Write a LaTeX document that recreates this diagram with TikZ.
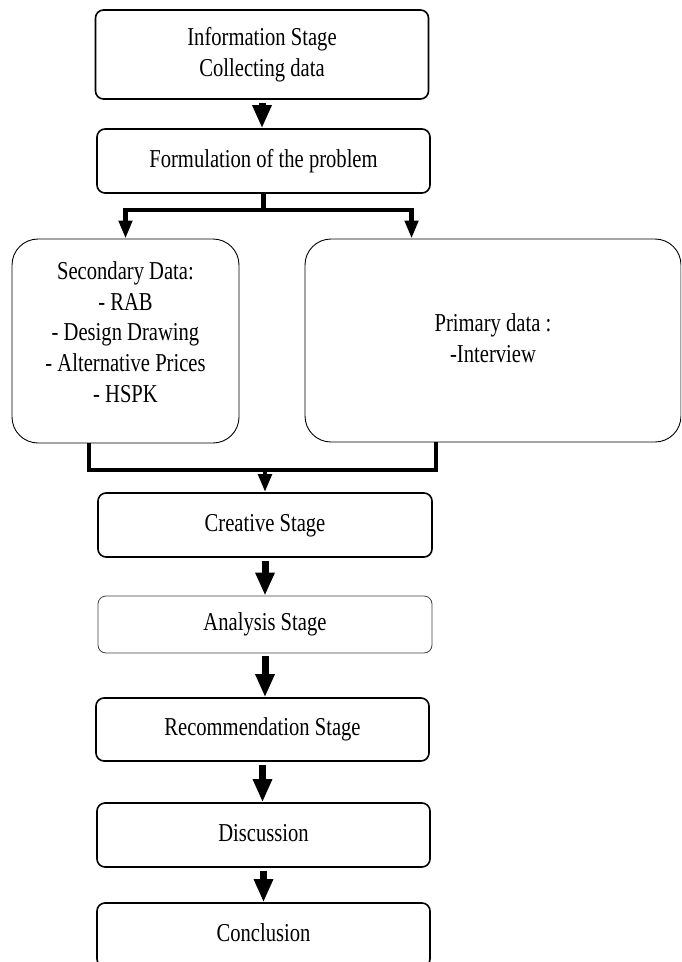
\documentclass[tikz,border=0pt]{standalone}
\usepackage{fontspec}
\usepackage{graphicx}
\setmainfont{Liberation Serif}
\usetikzlibrary{arrows.meta}

% text of the scanned chart is a bit taller than wide
\newcommand{\tall}[1]{\scalebox{1}[1.25]{\begin{tabular}{@{}c@{}}#1\end{tabular}}}

\begin{document}
\begin{tikzpicture}[x=1pt,y=-1pt,
    stage/.style={draw, line width=1.6pt, rounded corners=8pt, minimum width=333pt,
        minimum height=64pt, inner sep=0pt, align=center, font=\fontsize{20.6}{24.6}\selectfont},
    databox/.style={draw, line width=0.9pt, rounded corners=26pt, minimum height=204pt,
        inner sep=0pt, align=center, font=\fontsize{20.6}{24.6}\selectfont},
    bigarrow/.style={line width=7pt, shorten <=3pt, -{Triangle[width=18pt,length=23pt]}},
    link/.style={line width=4.5pt},
    linkarrow/.style={link, -{Triangle[width=13pt,length=18pt]}}]

    % --- Frame ---
    \useasboundingbox (0,0) rectangle (681,962);
    \clip (0,0) rectangle (681,962);

    % --- Stages ---
    \node[stage, minimum height=89pt] (info) at (262,54.5) {\tall{Information Stage\\Collecting data}};
    \node[stage] (form) at (263.5,161) {\tall{Formulation of the problem}};

    % Data boxes (the right one runs off the page edge)
    \node[databox, minimum width=227pt] (sec) at (125.5,341)
        {\tall{Secondary Data:\\- RAB\\- Design Drawing\\- Alternative Prices\\- HSPK\\[10pt]}};
    \node[databox, minimum width=376pt, minimum height=203pt] (prim) at (493,340.5)
        {\tall{Primary data :\\-Interview}};

    \node[stage, minimum width=334pt] (creat) at (265,525) {\tall{Creative Stage}};
    \node[stage, minimum width=334pt, minimum height=57pt, line width=0.8pt, draw=black!75]
        (anal) at (265,624.5) {\tall{Analysis Stage}};
    \node[stage, minimum height=63pt] (recom) at (262.5,729.5) {\tall{Recommendation Stage}};
    \node[stage] (disc) at (263.5,835) {\tall{Discussion}};
    \node[stage] (concl) at (263.5,935) {\tall{Conclusion}};

    % --- Connectors ---
    \draw[bigarrow] (info.south) -- (info.south |- form.north);

    % split to the two data boxes
    \draw[link] (form.south) -- ++(0,16) coordinate (split);
    \draw[linkarrow] (split) -| (sec.north);
    \draw[linkarrow] (split) -| ([xshift=107pt]prim.north west);

    % join back into the creative stage
    \coordinate (merge) at (265,470);
    \draw[link] ([xshift=-36.5pt]sec.south) |- (merge) -| ([xshift=-57pt]prim.south);
    \draw[linkarrow] (merge) -- (creat.north);

    \draw[bigarrow] (creat.south) -- (anal.north);
    \draw[bigarrow] (anal.south) -- (anal.south |- recom.north);
    \draw[bigarrow] (recom.south) -- (recom.south |- disc.north);
    \draw[bigarrow] (disc.south) -- (disc.south |- concl.north);

\end{tikzpicture}
\end{document}
